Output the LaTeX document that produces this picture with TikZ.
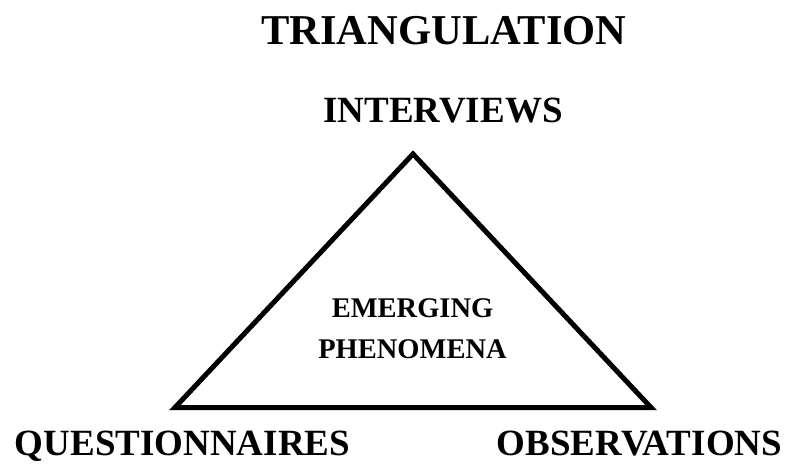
\documentclass[tikz,border=0pt]{standalone}
\usepackage{fontspec}
\setmainfont{Liberation Serif}
\begin{document}
\begin{tikzpicture}[x=1pt,y=1pt,
  lbl/.style={anchor=base,inner sep=0pt,font=\bfseries\fontsize{37}{44}\selectfont},
  ttl/.style={anchor=base,inner sep=0pt,font=\bfseries\fontsize{42.5}{50}\selectfont},
  inner/.style={anchor=base,inner sep=0pt,font=\bfseries\fontsize{28.5}{34}\selectfont},
  tri/.style={draw=black,line width=5pt,line join=miter}]
\useasboundingbox (0,0) rectangle (791,463);
\node[ttl] (title) at (444,418) {TRIANGULATION};
\node[lbl] (int) at (443,340) {INTERVIEWS};
\node[lbl] (que) at (182.5,7.5) {QUESTIONNAIRES};
\node[lbl] (obs) at (639.5,7.5) {OBSERVATIONS};
\node[inner] (em1) at (412.5,145) {EMERGING};
\node[inner] (em2) at (412.5,105) {PHENOMENA};
\coordinate (apex) at (413,309);
\coordinate (bl) at (175,55.5);
\coordinate (br) at (651,55.5);
\draw[tri] (apex) -- (bl) -- (br) -- cycle;
\end{tikzpicture}
\end{document}
